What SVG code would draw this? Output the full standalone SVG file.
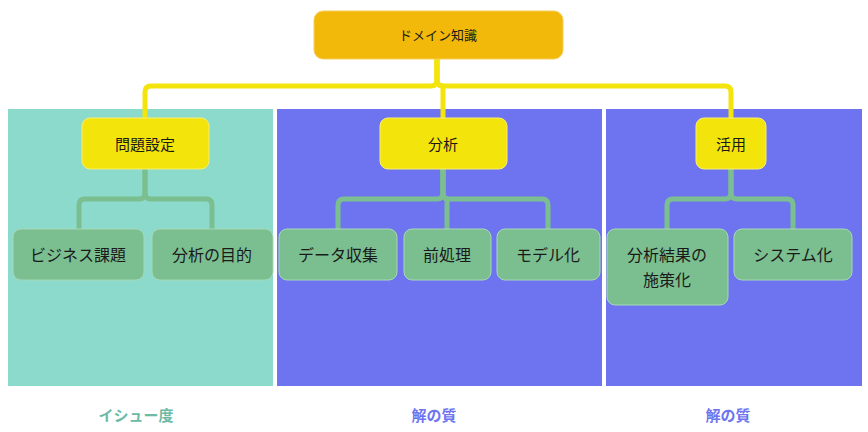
<svg xmlns="http://www.w3.org/2000/svg" width="868" height="432" viewBox="0 0 868 432">
<style>
text{font-family:"Noto Sans CJK JP","Noto Sans",sans-serif;text-anchor:middle;dominant-baseline:central;fill:#1a1a1a}
.top{fill:#f2b80a;stroke:#f7cf5a;stroke-width:1}
.l1{fill:#f3e40b;stroke:#f8ee70;stroke-width:1}
.l2{fill:#7bbf90;stroke:#a6d8b6;stroke-width:1}
.y{fill:none;stroke:#f3e40b;stroke-width:5;stroke-linejoin:round}
.g{fill:none;stroke:#7bbf90;stroke-width:5;stroke-linejoin:round}
.t1{font-size:15px}
.t2{font-size:16px}
.lab{font-size:15px;font-weight:bold}
</style>
<rect width="868" height="432" fill="#ffffff"/>
<g id="panels">
<rect x="8" y="109" width="265" height="277" fill="#8bdacb"/>
<rect x="277" y="109" width="325" height="277" fill="#6e74f0"/>
<rect x="606" y="109" width="256" height="277" fill="#6e74f0"/>
</g>
<g id="connectors">
<path class="y" d="M437 59 V80 Q437 86 431 86 H151 Q145 86 145 92 V118"/>
<path class="y" d="M437 59 V80 Q437 86 443 86 V118"/>
<path class="y" d="M437 59 V80 Q437 86 443 86 H725 Q731 86 731 92 V118"/>
<path class="g" d="M145 169 V193 Q145 199 139 199 H85 Q79 199 79 205 V229"/>
<path class="g" d="M145 169 V193 Q145 199 151 199 H206 Q212 199 212 205 V229"/>
<path class="g" d="M443 169 V193 Q443 199 437 199 H344 Q338 199 338 205 V229"/>
<path class="g" d="M443 169 V193 Q443 199 447 199 V229"/>
<path class="g" d="M443 169 V193 Q443 199 449 199 H542 Q548 199 548 205 V229"/>
<path class="g" d="M731 169 V193 Q731 199 725 199 H673 Q667 199 667 205 V229"/>
<path class="g" d="M731 169 V193 Q731 199 737 199 H787 Q793 199 793 205 V229"/>
</g>
<g id="node-domain"><rect class="top" x="314" y="11" width="249" height="48" rx="9"/><text x="438" y="34" font-size="13">ドメイン知識</text></g>
<g id="node-mondai"><rect class="l1" x="82" y="118" width="127" height="51" rx="8"/><text class="t1" x="145" y="143">問題設定</text></g>
<g id="node-bunseki"><rect class="l1" x="380" y="118" width="127" height="51" rx="8"/><text class="t1" x="443" y="143">分析</text></g>
<g id="node-katsuyo"><rect class="l1" x="696" y="118" width="70" height="51" rx="8"/><text class="t1" x="731" y="143">活用</text></g>
<g id="node-business"><rect class="l2" x="13" y="229" width="131" height="51" rx="8"/><text class="t2" x="78" y="254">ビジネス課題</text></g>
<g id="node-mokuteki"><rect class="l2" x="152" y="229" width="121" height="51" rx="8"/><text class="t2" x="212" y="254">分析の目的</text></g>
<g id="node-data"><rect class="l2" x="279" y="229" width="118" height="51" rx="8"/><text class="t2" x="338" y="254">データ収集</text></g>
<g id="node-mae"><rect class="l2" x="404" y="229" width="87" height="51" rx="8"/><text class="t2" x="447" y="254">前処理</text></g>
<g id="node-model"><rect class="l2" x="497" y="229" width="103" height="51" rx="8"/><text class="t2" x="548" y="254">モデル化</text></g>
<g id="node-shisaku"><rect class="l2" x="607" y="229" width="121" height="76" rx="8"/><text class="t2" x="667" y="254">分析結果の</text><text class="t2" x="667" y="279">施策化</text></g>
<g id="node-system"><rect class="l2" x="734" y="229" width="118" height="51" rx="8"/><text class="t2" x="793" y="254">システム化</text></g>
<g id="labels">
<text class="lab" x="136" y="414" style="fill:#6dbaa6">イシュー度</text>
<text class="lab" x="434" y="414" style="fill:#6e74f0">解の質</text>
<text class="lab" x="728" y="414" style="fill:#6e74f0">解の質</text>
</g>
</svg>
